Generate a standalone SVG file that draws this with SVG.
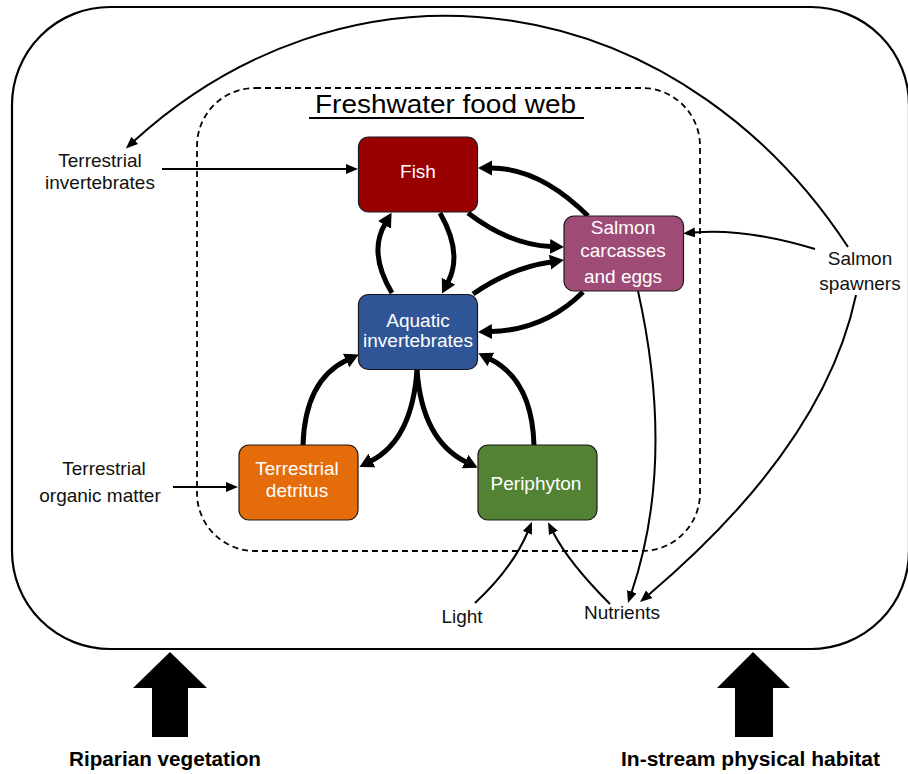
<svg xmlns="http://www.w3.org/2000/svg" width="908" height="774" viewBox="0 0 908 774">
<style>
.lbl{font-family:"Liberation Sans",Arial,sans-serif;font-size:19px;fill:#111;text-anchor:middle}
.ntx{font-family:"Liberation Sans",Arial,sans-serif;font-size:19px;fill:#fff;text-anchor:middle}
.node{stroke:#1a1a1a;stroke-width:1.2}
.thick{fill:none;stroke:#000;stroke-width:5;marker-end:url(#hb)}
.thin{fill:none;stroke:#000;stroke-width:2;marker-end:url(#hs)}
.bold{font-family:"Liberation Sans",Arial,sans-serif;font-size:20px;font-weight:bold;fill:#000}
</style>
<defs>
<marker id="hb" markerUnits="userSpaceOnUse" markerWidth="16" markerHeight="16" refX="1" refY="7.5" orient="auto">
<path d="M0,0 L14,7.5 L0,15 Z" fill="#000"/>
</marker>
<marker id="hs" markerUnits="userSpaceOnUse" markerWidth="14" markerHeight="12" refX="1" refY="5" orient="auto">
<path d="M0,0 L12,5 L0,10 Z" fill="#000"/>
</marker>
</defs>
<rect width="908" height="774" fill="#fff"/>

<g id="outer-box">
<rect x="12" y="7" width="897" height="642" rx="98" ry="98" fill="none" stroke="#000" stroke-width="2.2"/>
</g>
<g id="food-web-box">
<rect x="197" y="88" width="503" height="463" rx="58" ry="58" fill="none" stroke="#000" stroke-width="1.8" stroke-dasharray="6,4"/>
<text x="315" y="113" textLength="261" lengthAdjust="spacingAndGlyphs" style="font-family:'Liberation Sans Narrow','Liberation Sans',Arial,sans-serif;font-size:25px;fill:#000">Freshwater food web</text>
<line x1="309" y1="118" x2="584" y2="118" stroke="#000" stroke-width="1.8"/>
</g>

<g id="connectors">
<path class="thick" d="M588,216 Q540,168 491,168"/>
<path class="thick" d="M468,213 Q510,245 551,246.5"/>
<path class="thick" d="M473,294 Q510,268 551,262"/>
<path class="thick" d="M583,292 Q545,330 491,331.6"/>
<path class="thick" d="M392,293 Q368,253 385,224"/>
<path class="thick" d="M440,213 Q463,253 448,282"/>
<path class="thick" d="M303,445 Q305,380 347,360"/>
<path class="thick" d="M417,370 Q412,440 371,461"/>
<path class="thick" d="M417,370 Q422,440 466,462"/>
<path class="thick" d="M534,445 Q532,380 490,359"/>

<path class="thin" d="M162,169 L347,169"/>
<path class="thin" d="M173,487 L227,487"/>
<path class="thin" d="M815,249 Q745,228 694,232.5"/>
<path class="thin" d="M848,247 A503 580 0 0 0 134,141"/>
<path class="thin" d="M856,295 Q824,446 648.4,594.9"/>
<path class="thin" d="M638,291 Q676,461 631.5,592.6"/>
<path class="thin" d="M475,603 Q512.5,568 527.7,532"/>
<path class="thin" d="M610,604 Q568.5,562.5 553,532"/>
</g>

<g id="fish">
<rect class="node" x="358.5" y="137" width="119" height="75" rx="10" fill="#990000"/>
<text class="ntx" x="418" y="178">Fish</text>
</g>
<g id="salmon-carcasses">
<rect class="node" x="564" y="216" width="119.5" height="75" rx="10" fill="#9E4C77"/>
<text class="ntx" x="623" y="234">Salmon</text>
<text class="ntx" x="623" y="257">carcasses</text>
<text class="ntx" x="623" y="283">and eggs</text>
</g>
<g id="aquatic-invertebrates">
<rect class="node" x="358.5" y="294.5" width="119" height="75" rx="10" fill="#2F5597"/>
<text class="ntx" x="418" y="327">Aquatic</text>
<text class="ntx" x="418" y="347">invertebrates</text>
</g>
<g id="terrestrial-detritus">
<rect class="node" x="239" y="445" width="119" height="75" rx="10" fill="#E46C0A"/>
<text class="ntx" x="297" y="475">Terrestrial</text>
<text class="ntx" x="297" y="497">detritus</text>
</g>
<g id="periphyton">
<rect class="node" x="478" y="445" width="119" height="75" rx="10" fill="#548235"/>
<text class="ntx" x="536" y="490">Periphyton</text>
</g>

<g id="terrestrial-invertebrates">
<text class="lbl" x="100" y="167">Terrestrial</text>
<text class="lbl" x="100" y="189">invertebrates</text>
</g>
<g id="terrestrial-organic-matter">
<text class="lbl" x="104" y="475">Terrestrial</text>
<text class="lbl" x="100" y="502">organic matter</text>
</g>
<g id="salmon-spawners">
<text class="lbl" x="860" y="265">Salmon</text>
<text class="lbl" x="860" y="290">spawners</text>
</g>
<g id="light">
<text class="lbl" x="462" y="623">Light</text>
</g>
<g id="nutrients">
<text class="lbl" x="622" y="619">Nutrients</text>
</g>

<g id="riparian-vegetation">
<path d="M170,652 L207,688 L188,688 L188,737 L152,737 L152,688 L133,688 Z" fill="#000"/>
<text class="bold" x="69" y="766" textLength="192" lengthAdjust="spacingAndGlyphs">Riparian vegetation</text>
</g>
<g id="in-stream-habitat">
<path d="M753,652 L790,688 L773,688 L773,737 L735,737 L735,688 L717,688 Z" fill="#000"/>
<text class="bold" x="621" y="766" textLength="259" lengthAdjust="spacingAndGlyphs">In-stream physical habitat</text>
</g>
</svg>
